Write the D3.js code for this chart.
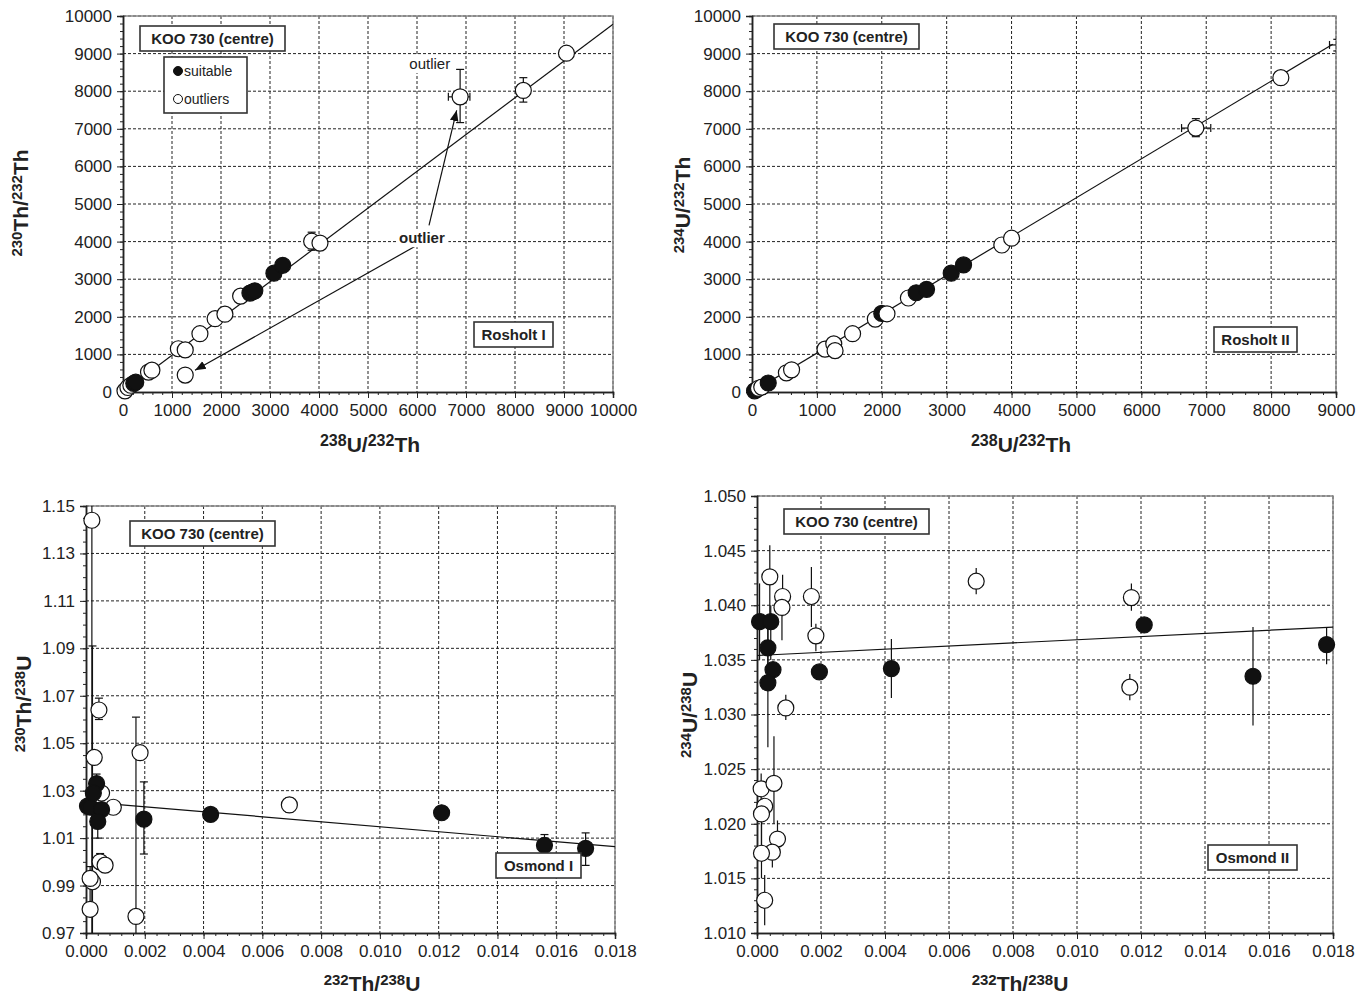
<!DOCTYPE html>
<html>
<head>
<meta charset="utf-8">
<script src="https://cdn.jsdelivr.net/npm/d3@7/dist/d3.min.js"></script>
<style>
	body { margin: 0; background: #fff; }
	text { font-family: "Liberation Sans", Arial, sans-serif; fill: #222; }
</style>
</head>
<body>
<svg id="chart" width="1372" height="994"></svg>
<script>
// rows: [x, y, kind, yLo, yHi, xLo, xHi]   kind: 1 suitable, 0 outlier, 2 marker hidden
const rosholt1 = [
	[40, 30, 0], [100, 120, 0], [160, 180, 0], [220, 230, 1], [260, 260, 1],
	[520, 530, 0], [590, 580, 0], [1130, 1150, 0], [1270, 1120, 0], [1270, 450, 0],
	[1570, 1550, 0], [1880, 1950, 0], [2080, 2070, 0], [2400, 2550, 0],
	[2590, 2630, 1], [2640, 2660, 1], [2690, 2690, 1], [3080, 3160, 1], [3260, 3370, 1],
	[3850, 4010, 0, 3770, 4250], [4020, 3960, 0],
	[6880, 7850, 0, 7165, 8580, 6640, 7080], [8170, 8020, 0, 7710, 8360], [9050, 9010, 0]
];
const rosholt2 = [
	[40, 30, 1], [70, 60, 1], [100, 100, 0], [150, 130, 0], [250, 240, 1],
	[530, 510, 0], [610, 590, 0], [1125, 1140, 0], [1260, 1280, 0], [1280, 1100, 0],
	[1550, 1550, 0], [1900, 1940, 0], [2000, 2090, 1], [2080, 2080, 0], [2410, 2500, 0],
	[2530, 2640, 1], [2690, 2730, 1], [3070, 3160, 1], [3260, 3380, 1],
	[3850, 3910, 0], [4000, 4090, 0],
	[6840, 7020, 0, 6790, 7270, 6620, 7070], [8150, 8360, 0],
	[9020, 9230, 2, 9070, 9380, 8900, 9020]
];
const osmond1 = [
	[0.0002, 1.144, 0, 0.95, 1.17], [0.00022, 0.9916, 0, 0.95, 1.091],
	[0.00044, 1.064, 0, 1.060, 1.069], [0.00184, 1.046, 0], [0.00028, 1.044, 0],
	[0.00053, 1.029, 0], [0.00093, 1.023, 0],
	[0.00048, 1.000, 0, 0.997, 1.0035], [0.00065, 0.9986, 0], [0.00014, 0.993, 0, 0.98, 0.998],
	[0.00014, 0.980, 0], [0.0017, 0.977, 0, 0.95, 1.061],
	[0.00036, 1.033, 1, 1.029, 1.037], [0.00005, 1.0235, 1], [0.00015, 1.023, 1],
	[0.00025, 1.029, 1], [0.00053, 1.022, 1], [0.0004, 1.017, 1, 1.010, 1.024],
	[0.00197, 1.018, 1, 1.0033, 1.0337], [0.00424, 1.020, 1],
	[0.00692, 1.024, 0, 1.021, 1.027],
	[0.0121, 1.0207, 1], [0.0156, 1.007, 1, 1.0035, 1.0115], [0.0170, 1.0057, 1, 0.9985, 1.0122]
];
const osmond2 = [
	[0.0004, 1.0426, 0, 1.039, 1.0455], [0.0008, 1.0408, 0, 1.039, 1.0428],
	[0.00078, 1.0398, 0, 1.0368, 1.041], [0.0017, 1.0408, 0, 1.038, 1.0435],
	[0.00184, 1.0372, 0, 1.0358, 1.0383], [0.0009, 1.0306, 0, 1.0295, 1.0318],
	[0.00685, 1.0422, 0, 1.041, 1.0434], [0.0117, 1.0407, 0, 1.0395, 1.042],
	[0.01165, 1.0325, 0, 1.0313, 1.0337],
	[0.00013, 1.0232, 0, 1.021, 1.0246], [0.00053, 1.0237, 0, 1.020, 1.028],
	[0.00024, 1.0216, 0], [0.00014, 1.0209, 0, 1.0175, 1.022],
	[0.00064, 1.0186, 0, 1.017, 1.0203], [0.00048, 1.0174, 0, 1.016, 1.0185],
	[0.00014, 1.0173, 0, 1.015, 1.020], [0.00024, 1.013, 0, 1.0107, 1.0153],
	[0.00008, 1.0385, 1, 1.035, 1.042], [0.00043, 1.0385, 1, 1.035, 1.040],
	[0.00034, 1.0361, 1, 1.033, 1.038], [0.0005, 1.0341, 1],
	[0.00034, 1.0329, 1, 1.027, 1.039], [0.00195, 1.0339, 1, 1.0332, 1.0345],
	[0.0042, 1.0342, 1, 1.0315, 1.0369], [0.0121, 1.0382, 1],
	[0.0155, 1.0335, 1, 1.029, 1.038], [0.0178, 1.0364, 1, 1.0346, 1.038]
];

const rosholt1Fit = [[0, 0], [10000, 9780]];
const rosholt2Fit = [[0, 0], [8950, 9250]];
const osmond1Fit = [[0, 1.0253], [0.018, 1.0064]];
const osmond2Fit = [[0, 1.0354], [0.018, 1.0380]];

const ratioTicks = [0, 1000, 2000, 3000, 4000, 5000, 6000, 7000, 8000, 9000, 10000];
const rosholt2XTicks = [0, 1000, 2000, 3000, 4000, 5000, 6000, 7000, 8000, 9000];
const thoriumTicks = [0, 0.002, 0.004, 0.006, 0.008, 0.010, 0.012, 0.014, 0.016, 0.018];
const osmond1YTicks = [0.97, 0.99, 1.01, 1.03, 1.05, 1.07, 1.09, 1.11, 1.13, 1.15];
const osmond2YTicks = [1.010, 1.015, 1.020, 1.025, 1.030, 1.035, 1.040, 1.045, 1.050];

const svg = d3.select('#chart');

const drawLabel = (g, parts, x, y, rotate) => {
	const t = g.append('text')
		.attr('transform', `translate(${x},${y})` + (rotate ? ' rotate(-90)' : ''))
		.attr('text-anchor', 'middle')
		.attr('font-weight', 'bold');
	parts.forEach(([s, sup]) => {
		t.append('tspan')
			.attr('font-size', sup ? parts.supSize : parts.size)
			.attr('baseline-shift', sup ? '40%' : null)
			.text(s);
	});
};

const drawBox = (g, x, y, w, h, label) => {
	g.append('rect')
		.attr('x', x).attr('y', y).attr('width', w).attr('height', h)
		.attr('fill', '#fff').attr('stroke', '#333').attr('stroke-width', 1.6);
	g.append('text')
		.attr('x', x + w / 2).attr('y', y + h / 2)
		.attr('dy', '0.36em')
		.attr('text-anchor', 'middle')
		.attr('font-weight', 'bold')
		.attr('font-size', 15)
		.text(label);
};

const drawPanel = cfg => {
	const x = d3.scaleLinear().domain(cfg.xDomain).range([cfg.left, cfg.right]);
	const y = d3.scaleLinear().domain(cfg.yDomain).range([cfg.bottom, cfg.top]);
	const g = svg.append('g');

	g.append('clipPath').attr('id', 'clip-' + cfg.id)
		.append('rect')
		.attr('x', cfg.left).attr('y', cfg.top)
		.attr('width', cfg.right - cfg.left).attr('height', cfg.bottom - cfg.top);

	// dashed grid
	g.append('g').selectAll('line')
		.data(cfg.xTicks.slice(1))
		.join('line')
		.attr('x1', d => x(d)).attr('x2', d => x(d))
		.attr('y1', cfg.top).attr('y2', cfg.bottom)
		.attr('stroke', '#222').attr('stroke-dasharray', '3,2');
	g.append('g').selectAll('line')
		.data(cfg.yTicks.slice(1))
		.join('line')
		.attr('y1', d => y(d)).attr('y2', d => y(d))
		.attr('x1', cfg.left).attr('x2', cfg.right)
		.attr('stroke', '#222').attr('stroke-dasharray', '3,2');

	// frame
	g.append('path')
		.attr('d', `M${cfg.left},${cfg.top}H${cfg.right}V${cfg.bottom}`)
		.attr('fill', 'none').attr('stroke', '#888').attr('stroke-width', 1.5);

	// axes
	const xMinor = d3.range(cfg.xDomain[0], cfg.xDomain[1] + cfg.xMinor / 2, cfg.xMinor);
	const yMinor = d3.range(cfg.yDomain[0], cfg.yDomain[1] + cfg.yMinor / 2, cfg.yMinor);

	const xAxis = g.append('g').attr('transform', `translate(0,${cfg.bottom})`);
	xAxis.append('g').call(d3.axisBottom(x).tickValues(xMinor).tickSize(3).tickFormat(''));
	xAxis.append('g').call(d3.axisBottom(x).tickValues(cfg.xTicks).tickSize(6).tickPadding(6).tickFormat(cfg.xFmt));

	const yAxis = g.append('g').attr('transform', `translate(${cfg.left},0)`);
	yAxis.append('g').call(d3.axisLeft(y).tickValues(yMinor).tickSize(3).tickFormat(''));
	yAxis.append('g').call(d3.axisLeft(y).tickValues(cfg.yTicks).tickSize(6).tickPadding(5).tickFormat(cfg.yFmt));

	g.selectAll('.domain').attr('stroke', '#222').attr('stroke-width', 1.5);
	g.selectAll('.tick line').attr('stroke', '#222');
	g.selectAll('.tick text').attr('font-size', 17).attr('fill', '#222')
		.style('font-family', '"Liberation Sans", Arial, sans-serif');

	// fit line
	g.append('line')
		.attr('x1', x(cfg.fit[0][0])).attr('y1', y(cfg.fit[0][1]))
		.attr('x2', x(cfg.fit[1][0])).attr('y2', y(cfg.fit[1][1]))
		.attr('stroke', '#111').attr('stroke-width', 1.2);

	// error bars
	const cap = cfg.caps ? 4 : 0;
	const err = g.append('g').attr('clip-path', `url(#clip-${cfg.id})`)
		.attr('stroke', '#111').attr('stroke-width', 1.2);
	cfg.data.forEach(d => {
		const [px, py] = [x(d[0]), y(d[1])];
		if (d[3] !== undefined) {
			err.append('line').attr('x1', px).attr('x2', px).attr('y1', y(d[3])).attr('y2', y(d[4]));
			if (cap) {
				[d[3], d[4]].forEach(v => err.append('line')
					.attr('x1', px - cap).attr('x2', px + cap).attr('y1', y(v)).attr('y2', y(v)));
			}
		}
		if (d[5] !== undefined) {
			err.append('line').attr('y1', py).attr('y2', py).attr('x1', x(d[5])).attr('x2', x(d[6]));
			if (cap) {
				[d[5], d[6]].forEach(v => err.append('line')
					.attr('y1', py - cap).attr('y2', py + cap).attr('x1', x(v)).attr('x2', x(v)));
			}
		}
	});

	// points
	g.append('g').selectAll('circle')
		.data(cfg.data.filter(d => d[2] !== 2))
		.join('circle')
		.attr('cx', d => x(d[0]))
		.attr('cy', d => y(d[1]))
		.attr('r', 8)
		.attr('fill', d => d[2] ? '#111' : '#fff')
		.attr('stroke', '#111')
		.attr('stroke-width', 1.2);

	drawBox(g, cfg.left + cfg.titleAt[0], cfg.top + cfg.titleAt[1], 145, 25, 'KOO 730 (centre)');
	drawBox(g, cfg.left + cfg.nameAt[0], cfg.top + cfg.nameAt[1], cfg.nameAt[2], 25, cfg.name);

	drawLabel(g, cfg.xLabel, cfg.xLabelAt[0], cfg.xLabelAt[1], false);
	drawLabel(g, cfg.yLabel, cfg.yLabelAt[0], cfg.yLabelAt[1], true);

	return { g, x, y };
};

const label = (parts, size, supSize) => Object.assign(parts, { size, supSize });

const fmt0 = d3.format('d');

const p1 = drawPanel({
	id: 'r1', left: 123, right: 613, top: 16, bottom: 392,
	xDomain: [0, 10000], yDomain: [0, 10000], xMinor: 200, yMinor: 200,
	xTicks: ratioTicks, yTicks: ratioTicks, xFmt: fmt0, yFmt: fmt0,
	data: rosholt1, fit: rosholt1Fit, caps: true,
	titleAt: [17, 10], nameAt: [351, 306, 79], name: 'Rosholt I',
	xLabel: label([['238', 1], ['U/'], ['232', 1], ['Th']], 21, 16), xLabelAt: [370, 452],
	yLabel: label([['230', 1], ['Th/'], ['232', 1], ['Th']], 21, 15), yLabelAt: [28, 203]
});

// legend
const leg = p1.g.append('g');
leg.append('rect').attr('x', 164).attr('y', 57).attr('width', 83).attr('height', 56)
	.attr('fill', '#fff').attr('stroke', '#333').attr('stroke-width', 1.6);
[['suitable', 1], ['outliers', 0]].forEach(([t, f], i) => {
	leg.append('circle').attr('cx', 178).attr('cy', 71 + i * 28).attr('r', 4.5)
		.attr('fill', f ? '#111' : '#fff').attr('stroke', '#111');
	leg.append('text').attr('x', 184).attr('y', 71 + i * 28).attr('dy', '0.35em')
		.attr('font-size', 14).text(t);
});

// outlier annotations
const note = p1.g.append('g');
const arrow = note.append('defs').append('marker')
	.attr('id', 'head').attr('viewBox', '0 0 10 10').attr('refX', 10).attr('refY', 5)
	.attr('markerWidth', 9).attr('markerHeight', 9).attr('orient', 'auto');
arrow.append('path').attr('d', 'M0,1L10,5L0,9Z').attr('fill', '#111');
[[[6245, 4433], [6810, 7492]], [[6000, 3902], [1469, 577]]].forEach(([a, b]) => {
	note.append('line')
		.attr('x1', p1.x(a[0])).attr('y1', p1.y(a[1]))
		.attr('x2', p1.x(b[0])).attr('y2', p1.y(b[1]))
		.attr('stroke', '#111').attr('stroke-width', 1.2)
		.attr('marker-end', 'url(#head)');
});
note.append('rect').attr('x', p1.x(5580)).attr('y', p1.y(4090) - 9).attr('width', 52).attr('height', 18).attr('fill', '#fff');
note.append('text').attr('x', p1.x(6100)).attr('y', p1.y(4090)).attr('dy', '0.35em')
	.attr('text-anchor', 'middle').attr('font-weight', 'bold').attr('font-size', 15).text('outlier');
note.append('rect').attr('x', p1.x(5790)).attr('y', p1.y(8720) - 9).attr('width', 48).attr('height', 18).attr('fill', '#fff');
note.append('text').attr('x', p1.x(6260)).attr('y', p1.y(8720)).attr('dy', '0.35em')
	.attr('text-anchor', 'middle').attr('font-size', 15).text('outlier');

drawPanel({
	id: 'r2', left: 752, right: 1336, top: 16, bottom: 392,
	xDomain: [0, 9000], yDomain: [0, 10000], xMinor: 200, yMinor: 200,
	xTicks: rosholt2XTicks, yTicks: ratioTicks, xFmt: fmt0, yFmt: fmt0,
	data: rosholt2, fit: rosholt2Fit, caps: true,
	titleAt: [22, 8], nameAt: [462, 311, 83], name: 'Rosholt II',
	xLabel: label([['238', 1], ['U/'], ['232', 1], ['Th']], 21, 16), xLabelAt: [1021, 452],
	yLabel: label([['234', 1], ['U/'], ['232', 1], ['Th']], 21, 15), yLabelAt: [690, 205]
});

drawPanel({
	id: 'o1', left: 86, right: 615, top: 506, bottom: 933,
	xDomain: [0, 0.018], yDomain: [0.97, 1.15], xMinor: 0.0004, yMinor: 0.005,
	xTicks: thoriumTicks, yTicks: osmond1YTicks, xFmt: d3.format('.3f'), yFmt: d3.format('.2f'),
	data: osmond1, fit: osmond1Fit, caps: true,
	titleAt: [44, 15], nameAt: [410, 347, 85], name: 'Osmond I',
	xLabel: label([['232', 1], ['Th/'], ['238', 1], ['U']], 21, 15), xLabelAt: [372, 991],
	yLabel: label([['230', 1], ['Th/'], ['238', 1], ['U']], 21, 15), yLabelAt: [31, 704]
});

drawPanel({
	id: 'o2', left: 757, right: 1333, top: 496, bottom: 933,
	xDomain: [0, 0.018], yDomain: [1.010, 1.050], xMinor: 0.0004, yMinor: 0.001,
	xTicks: thoriumTicks, yTicks: osmond2YTicks, xFmt: d3.format('.3f'), yFmt: d3.format('.3f'),
	data: osmond2, fit: osmond2Fit, caps: false,
	titleAt: [27, 13], nameAt: [451, 349, 89], name: 'Osmond II',
	xLabel: label([['232', 1], ['Th/'], ['238', 1], ['U']], 21, 15), xLabelAt: [1020, 991],
	yLabel: label([['234', 1], ['U/'], ['238', 1], ['U']], 21, 15), yLabelAt: [697, 715]
});
</script>
</body>
</html>
